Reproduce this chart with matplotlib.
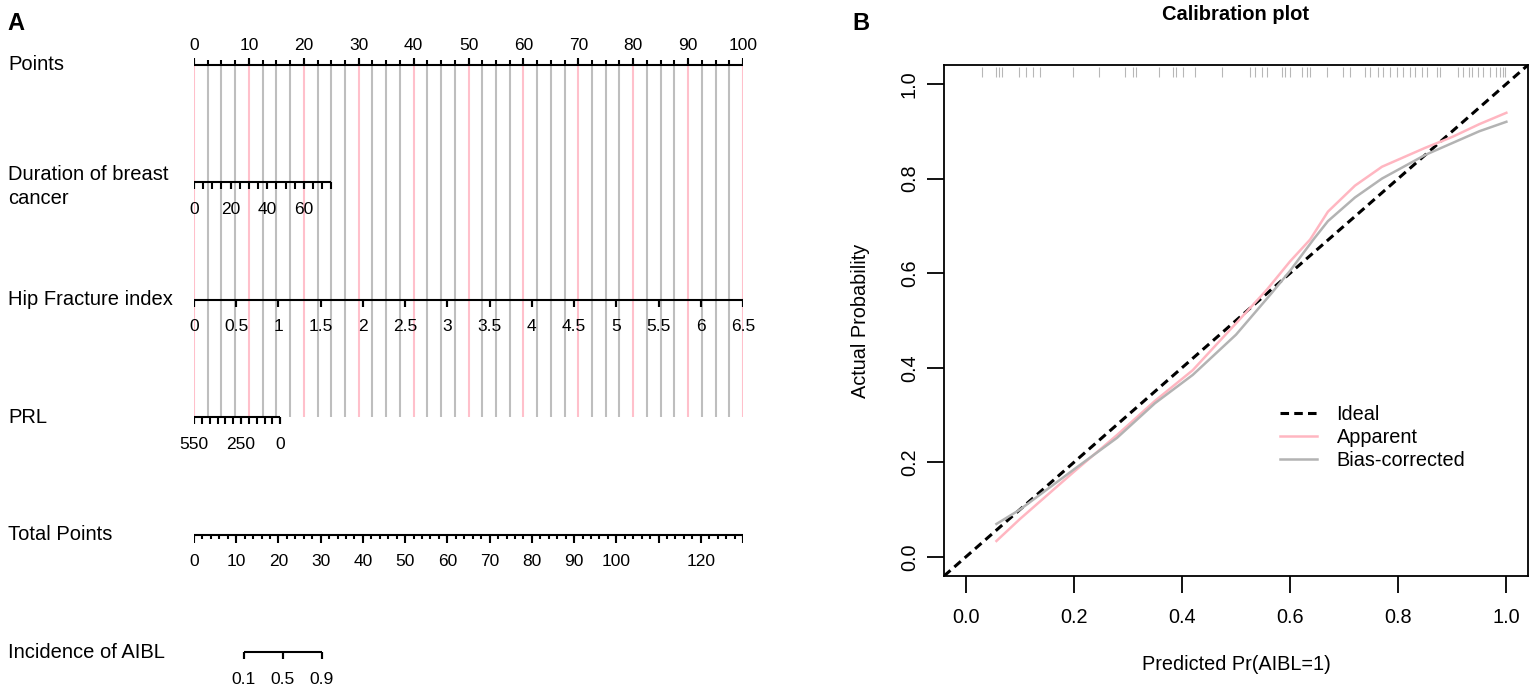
import numpy as np
import matplotlib.pyplot as plt
from matplotlib.transforms import blended_transform_factory

plt.rcParams['font.family'] = ['Liberation Sans', 'DejaVu Sans']

# ---- nomogram (panel A) ----
row_names = ["Points", "Duration of breast\ncancer", "Hip Fracture index",
             "PRL", "Total Points", "Incidence of AIBL"]

points_ticks = np.arange(0, 100.1, 2.5)
points_labels = np.arange(0, 101, 10)

duration_ticks = np.arange(0, 76, 5)
duration_labels = [0, 20, 40, 60]
duration_pts_per_unit = 25 / 75

hip_ticks = np.arange(0, 6.51, 0.5)
hip_pts_per_unit = 100 / 6.5

prl_ticks = np.arange(0, 551, 50)
prl_labels = [550, 250, 0]
prl_max = 550
prl_pts_at_zero = 15.7

total_minor = np.arange(0, 131, 2)
total_major = np.arange(0, 131, 10)
total_labels = [0, 10, 20, 30, 40, 50, 60, 70, 80, 90, 100, 120]
total_max = 130

prob_labels = [0.1, 0.5, 0.9]
lp_intercept = -5.0
lp_slope = 0.2375

# ---- calibration (panel B) ----
apparent_x = [0.057, 0.1, 0.2, 0.28, 0.35, 0.42, 0.5, 0.557, 0.6, 0.637,
              0.67, 0.72, 0.77, 0.85, 0.9, 0.95, 1.0]
apparent_y = [0.034, 0.08, 0.18, 0.258, 0.33, 0.395, 0.494, 0.565, 0.625, 0.671,
              0.73, 0.785, 0.825, 0.865, 0.888, 0.915, 0.939]
bias_x = [0.057, 0.1, 0.2, 0.28, 0.35, 0.42, 0.5, 0.563, 0.6, 0.643,
          0.67, 0.72, 0.77, 0.85, 0.9, 0.95, 1.0]
bias_y = [0.07, 0.1, 0.185, 0.252, 0.325, 0.385, 0.47, 0.554, 0.605, 0.671,
          0.71, 0.76, 0.8, 0.85, 0.875, 0.9, 0.92]
rug = [0.031, 0.056, 0.061, 0.067, 0.098, 0.111, 0.124, 0.137, 0.198, 0.246,
       0.294, 0.309, 0.315, 0.357, 0.383, 0.389, 0.402, 0.424, 0.474,
       0.526, 0.535, 0.548, 0.557, 0.585, 0.591, 0.600, 0.622, 0.631, 0.637,
       0.669, 0.698, 0.711, 0.739, 0.748, 0.763, 0.772, 0.785, 0.798, 0.809,
       0.822, 0.831, 0.844, 0.854, 0.872, 0.878, 0.911, 0.920, 0.930, 0.937,
       0.948, 0.957, 0.970, 0.980, 0.989, 0.994, 0.998]

W, H = 1536, 692
fig = plt.figure(figsize=(W / 100, H / 100), dpi=100)

# panel A axes: x in points units, y in row units (downwards)
row_px = 117.4
top_px, bot_px = 65 - 0.3 * row_px, 652 + 0.3 * row_px
axA = fig.add_axes([194 / W, 1 - bot_px / H, (743 - 194) / W, (bot_px - top_px) / H])
axA.set_xlim(0, 100)
axA.set_ylim(5.3, -0.3)
axA.axis('off')


def r(px):
    return px / row_px


def draw_scale(row, ticks, major, labels, label_txt, up=False, minor_len=7, major_len=7):
    s = -1 if up else 1
    axA.hlines(row, min(ticks), max(ticks), color='black', lw=1.5, zorder=3)
    axA.vlines(ticks, row, row + s * r(minor_len), color='black', lw=1.5, zorder=3)
    axA.vlines(major, row, row + s * r(major_len), color='black', lw=1.5, zorder=3)
    ty = row - r(20) if up else row + r(27)
    for x, t in zip(labels, label_txt):
        axA.text(x, ty, t, ha='center', va='center', fontsize=12.5)


# vertical reference lines
grid_red = points_ticks[np.isclose(points_ticks % 10, 0)]
grid_gray = points_ticks[~np.isclose(points_ticks % 10, 0)]
axA.vlines(grid_gray, 0, 3, color='#BEBEBE', lw=1.5, zorder=1)
axA.vlines(grid_red, 0, 3, color='#FFC0CB', lw=1.5, zorder=1)

draw_scale(0, points_ticks, points_labels, points_labels,
           [str(v) for v in points_labels], up=True, minor_len=5, major_len=7)

d = duration_ticks * duration_pts_per_unit
dl = np.array(duration_labels) * duration_pts_per_unit
draw_scale(1, d, dl, dl, [str(v) for v in duration_labels])

h = hip_ticks * hip_pts_per_unit
draw_scale(2, h, h, h, ['%g' % v for v in hip_ticks])

p = prl_pts_at_zero * (1 - prl_ticks / prl_max)
pl = prl_pts_at_zero * (1 - np.array(prl_labels) / prl_max)
draw_scale(3, p, pl, pl, [str(v) for v in prl_labels])

tscale = 100 / total_max
draw_scale(4, total_minor * tscale, total_major * tscale,
           np.array(total_labels) * tscale, [str(v) for v in total_labels],
           minor_len=4, major_len=8)

pr = np.array(prob_labels)
tot = (np.log(pr / (1 - pr)) - lp_intercept) / lp_slope
draw_scale(5, tot * tscale, tot * tscale, tot * tscale, ['%g' % v for v in prob_labels])

lab_tr = blended_transform_factory(fig.transFigure, axA.transData)
for i, name in enumerate(row_names):
    yy = i + r(4) if "\n" in name else i
    axA.text(8 / W, yy, name, transform=lab_tr, ha='left', va='center',
             fontsize=14.5, linespacing=1.35)

fig.text(7 / W, 1 - 24 / H, "A", fontsize=17, fontweight='bold', va='center', ha='left')

# panel B
axB = fig.add_axes([944 / W, 1 - 576 / H, (1528 - 944) / W, (576 - 65) / H])
axB.set_xlim(-0.04, 1.04)
axB.set_ylim(-0.04, 1.04)
axB.axline((0, 0), slope=1, color='black', lw=2.2, ls=(0, (2.8, 1.7)), label='Ideal')
axB.plot(apparent_x, apparent_y, color='#FFB6C1', lw=1.8, label='Apparent')
axB.plot(bias_x, bias_y, color='#B3B3B3', lw=1.8, label='Bias-corrected')
rug_tr = blended_transform_factory(axB.transData, axB.transAxes)
axB.vlines(rug, 0.977, 0.997, transform=rug_tr, color='#888888', lw=0.8, alpha=0.6)

ticks = np.arange(0, 1.01, 0.2)
axB.set_xticks(ticks)
axB.set_yticks(ticks)
axB.set_xticklabels(['%.1f' % v for v in ticks])
axB.set_yticklabels(['%.1f' % v for v in ticks], rotation=90, va='center')
axB.tick_params(direction='out', length=12, width=1.3, labelsize=14.3)
axB.tick_params(axis='x', pad=11)
axB.tick_params(axis='y', pad=6)
for sp in axB.spines.values():
    sp.set_linewidth(1.3)

axB.set_xlabel("Predicted Pr(AIBL=1)", fontsize=14.3)
axB.xaxis.set_label_coords(0.5, (576 - 665) / 511)
axB.xaxis.label.set_va('center')
axB.set_ylabel("Actual Probability", fontsize=14.3)
axB.yaxis.set_label_coords((860 - 944) / 584, 0.5)
axB.yaxis.label.set_va('center')

axB.legend(loc='upper left', bbox_to_anchor=(0.575, 0.335), frameon=False,
           fontsize=14.3, handlelength=1.86, handletextpad=1.0, labelspacing=0.2,
           borderpad=0, borderaxespad=0)

fig.text(1236 / W, 1 - 15 / H, "Calibration plot", fontsize=14.5, fontweight='bold',
         ha='center', va='center')
fig.text(852 / W, 1 - 24 / H, "B", fontsize=17, fontweight='bold', va='center', ha='left')

fig.savefig("out.png", dpi=100)
